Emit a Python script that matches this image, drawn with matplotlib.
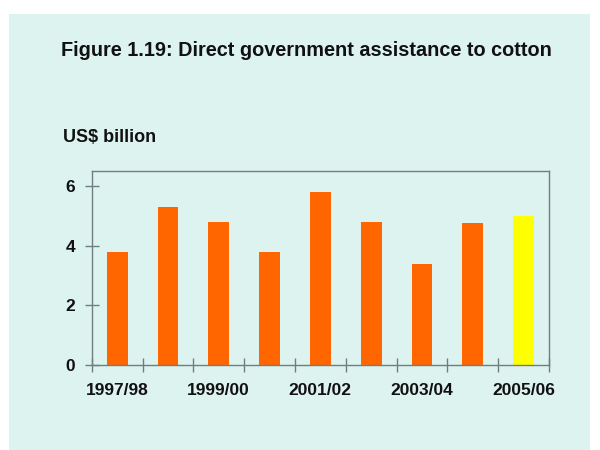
import numpy as np
import matplotlib.pyplot as plt
from matplotlib.patches import Rectangle

years = ["1997/98", "1998/99", "1999/00", "2000/01", "2001/02",
         "2002/03", "2003/04", "2004/05", "2005/06"]
values = [3.8, 5.3, 4.8, 3.8, 5.8, 4.8, 3.4, 4.75, 5.0]
colors = ["#ff6600"] * 8 + ["#ffff00"]
shown_labels = ["1997/98", "1999/00", "2001/02", "2003/04", "2005/06"]

plt.rcParams['font.family'] = ['Liberation Sans', 'DejaVu Sans']
bg = "#ddf3f0"
spine_col = "#6f7f7f"

fig = plt.figure(figsize=(6, 4.5), dpi=100, facecolor="white")
# light cyan panel behind the chart
fig.patches.append(Rectangle((9/600, 0), 581/600, 436/450,
                             transform=fig.transFigure, facecolor=bg,
                             edgecolor="none", zorder=-5))

ax = fig.add_axes([91.7/600, 85/450, 457.3/600, 194/450])
ax.set_zorder(2)
ax.set_facecolor("none")

x = np.arange(len(years))
ax.bar(x, values, width=0.41, color=colors, zorder=2)

ax.set_xlim(-0.5, len(years) - 0.5)
ax.set_ylim(0, 6.5)
ax.set_yticks([0, 2, 4, 6])
ax.set_xticks(np.arange(-0.5, len(years) + 0.5, 1.0))
ax.set_xticklabels([])
ax.set_xticks([years.index(l) for l in shown_labels], minor=True)
ax.set_xticklabels(shown_labels, minor=True)
ax.tick_params(axis='x', which='minor', length=0, pad=13)
ax.tick_params(axis='x', which='major', direction='inout', length=10,
               color=spine_col, width=1)
ax.tick_params(axis='y', direction='inout', length=10, color=spine_col,
               width=1, pad=7)
for lab in ax.get_xticklabels(minor=True) + ax.get_yticklabels():
    lab.set_fontweight('bold')
    lab.set_fontsize(12.5)
    lab.set_color("#111111")

for s in ax.spines.values():
    s.set_color(spine_col)
    s.set_linewidth(1)

fig.text(306/600, 1 - 50/450, "Figure 1.19: Direct government assistance to cotton",
         ha='center', va='center', fontsize=14.3, fontweight='bold', color="#111111")
fig.text(63/600, 1 - 137/450, "US$ billion", ha='left', va='center',
         fontsize=13, fontweight='bold', color="#111111")

fig.savefig("out.png", dpi=100, facecolor=fig.get_facecolor())
